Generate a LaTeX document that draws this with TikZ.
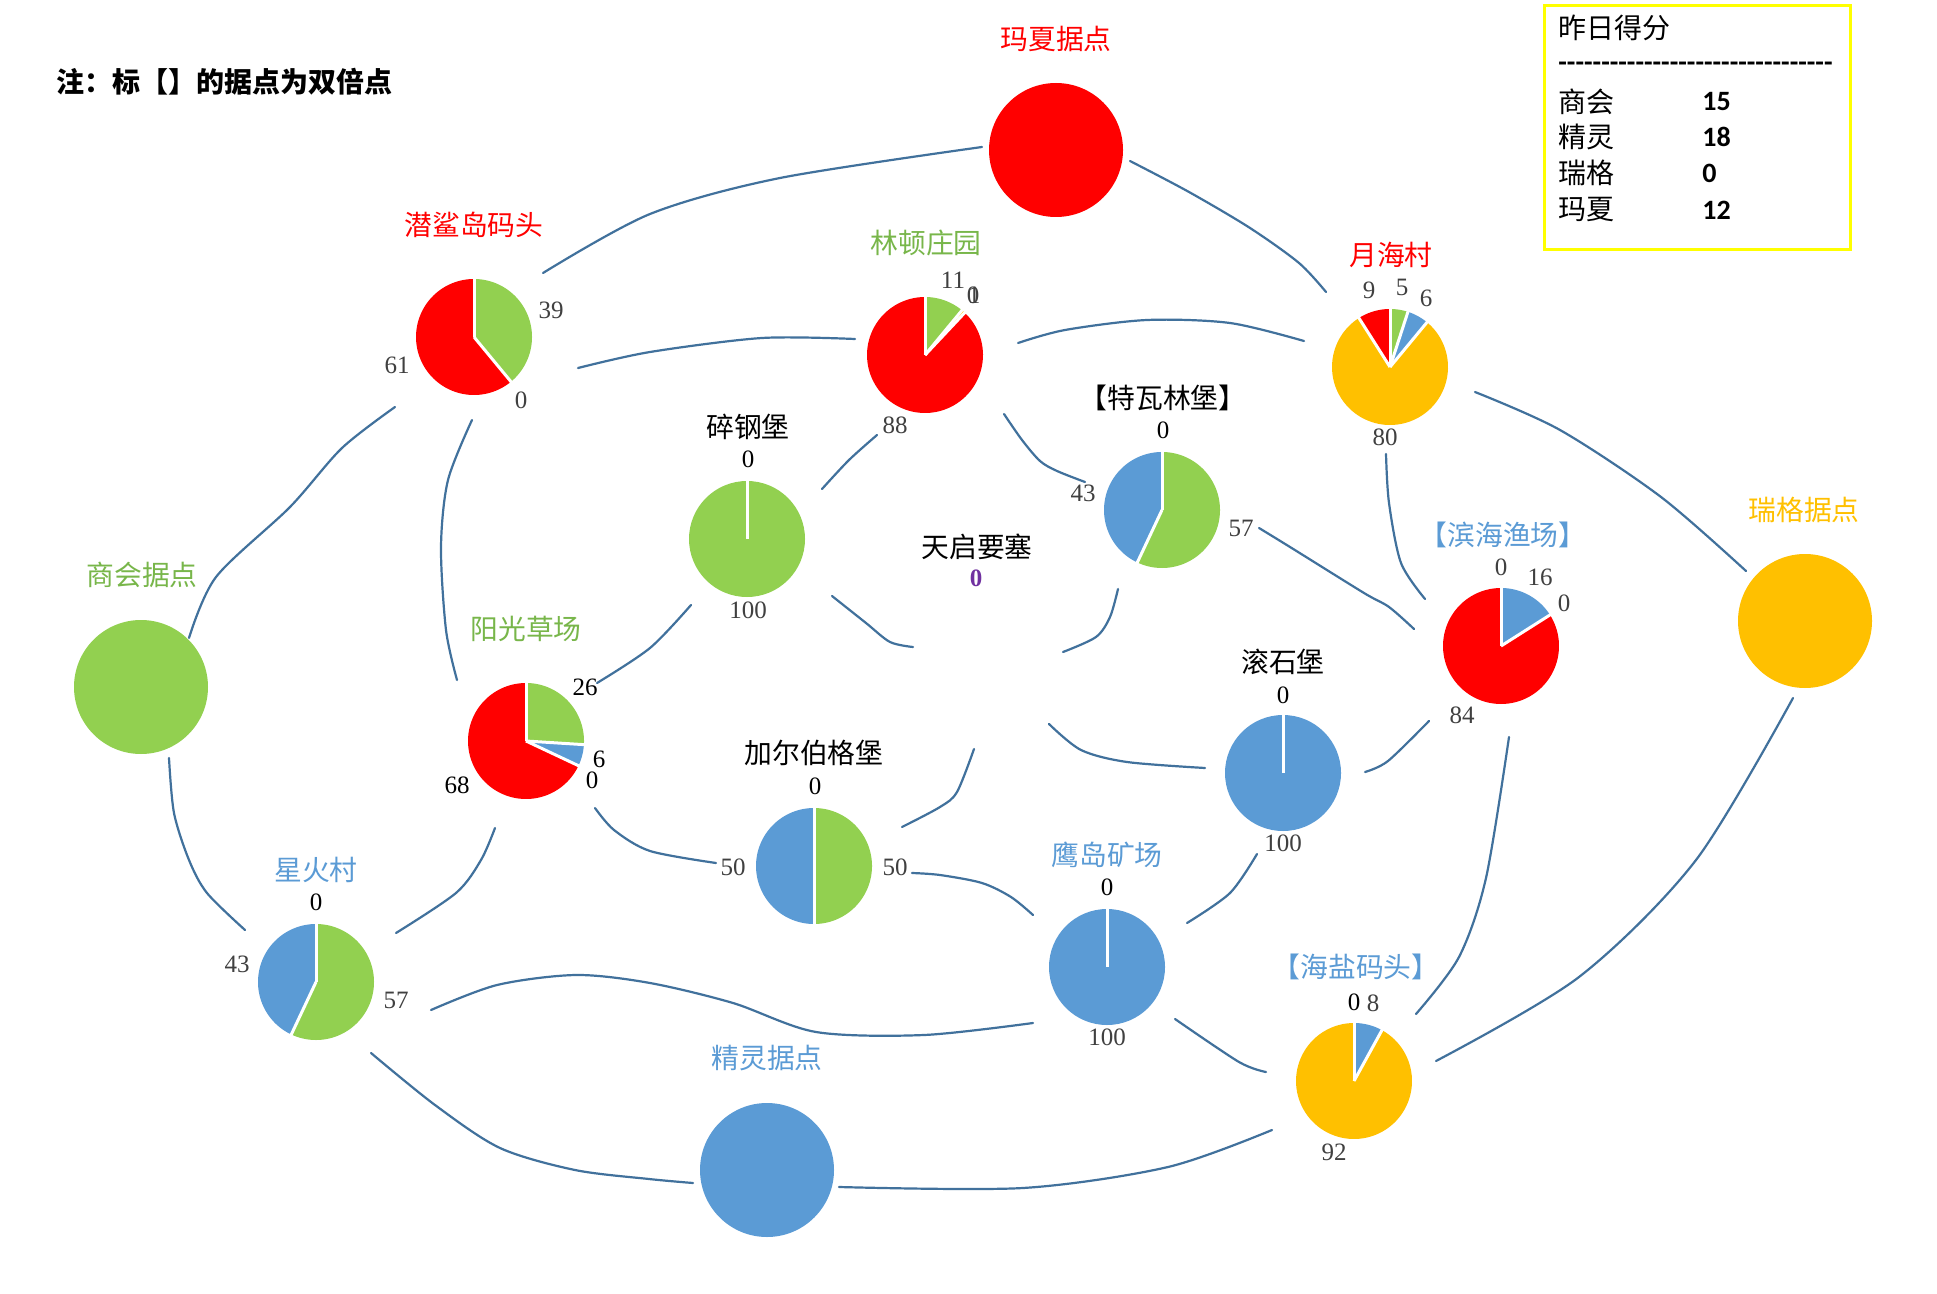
\documentclass[tikz,border=0pt]{standalone}
\usepackage{fontspec}
\setmainfont{Liberation Serif}
\newfontfamily\cjk{Noto Sans CJK SC}
\newfontfamily\calf{Carlito}
\definecolor{cgreen}{HTML}{92D050}
\definecolor{cblue}{HTML}{5B9BD5}
\definecolor{corange}{HTML}{FFC000}
\definecolor{cred}{HTML}{FF0000}
\definecolor{tgreen}{HTML}{78B64A}
\definecolor{linec}{HTML}{41719C}
\definecolor{numc}{HTML}{404040}
\definecolor{cpurple}{HTML}{7030A0}
\definecolor{boxc}{HTML}{FFFF00}
\newcommand\pieslice[5]{\fill[#5] (#1,#2) -- plot[domain=#3:#4, samples=90] ({#1+58*cos(\x)},{#2-58*sin(\x)}) -- cycle;}
\newcommand\piesep[3]{\draw[white, line width=1.5pt] (#1,#2) -- ({#1+60*cos(#3)},{#2-60*sin(#3)});}
\tikzset{
  conn/.style={draw=linec, line width=1.1pt, line cap=round},
  lab/.style={font=\cjk\fontsize{13.9}{16}\selectfont, inner sep=0pt},
  num/.style={font=\fontsize{12.5}{14}\selectfont, text=numc, inner sep=0pt},
  numk/.style={font=\fontsize{12.5}{14}\selectfont, text=black, inner sep=0pt},
  base/.style={circle, minimum size=67pt, inner sep=0pt},
  pienode/.style={circle, minimum size=58pt, inner sep=0pt},
  boxtxt/.style={font=\cjk\fontsize{14}{16}\selectfont, anchor=west, inner sep=0pt},
  boxnum/.style={font=\calf\bfseries\fontsize{14}{16}\selectfont, anchor=west, inner sep=0pt},
}
\begin{document}
\begin{tikzpicture}[x=0.5pt,y=-0.5pt]
\useasboundingbox (0,0) rectangle (1937,1294);
\fill[white] (0,0) rectangle (1937,1294);

% ---------- nodes (bases and pies) ----------
\node[base, fill=cred] (mx) at (1056,150) {};
\node[base, fill=cgreen] (sh) at (141,687) {};
\node[base, fill=corange] (rg) at (1805,621) {};
\node[base, fill=cblue] (jl) at (767,1170) {};

\node[pienode] (qs) at (474,337) {};
\node[pienode] (ld) at (925,355) {};
\node[pienode] (yh) at (1390,367) {};
\node[pienode] (sg) at (747,539) {};
\node[pienode] (tw) at (1162,510) {};
\node[pienode] (tq) at (977,640) {};
\node[pienode] (yg) at (526,741) {};
\node[pienode] (ge) at (814,866) {};
\node[pienode] (gs) at (1283,773) {};
\node[pienode] (bh) at (1501,646) {};
\node[pienode] (xh) at (316,982) {};
\node[pienode] (yd) at (1107,967) {};
\node[pienode] (hy) at (1354,1081) {};

% ---------- connector end points ----------
\coordinate (qs-mx) at (543,273);   \coordinate (mx-qs) at (982,147);
\coordinate (mx-yh) at (1130,161);  \coordinate (yh-mx) at (1326,292);
\coordinate (qs-ld) at (578,368);   \coordinate (ld-qs) at (855,339);
\coordinate (ld-yh) at (1018,343);  \coordinate (yh-ld) at (1304,341);
\coordinate (qs-sh) at (395,407);   \coordinate (sh-qs) at (189,638);
\coordinate (qs-yg) at (472,420);   \coordinate (yg-qs) at (457,680);
\coordinate (sh-xh) at (169,758);   \coordinate (xh-sh) at (245,930);
\coordinate (yg-sg) at (597,683);   \coordinate (sg-yg) at (691,605);
\coordinate (ld-sg) at (877,435);   \coordinate (sg-ld) at (822,489);
\coordinate (ld-tw) at (1004,414);  \coordinate (tw-ld) at (1085,482);
\coordinate (sg-tq) at (832,596);   \coordinate (tq-sg) at (913,647);
\coordinate (tw-tq) at (1118,589);  \coordinate (tq-tw) at (1063,652);
\coordinate (tq-gs) at (1049,724);  \coordinate (gs-tq) at (1205,768);
\coordinate (ge-tq) at (902,827);   \coordinate (tq-ge) at (974,749);
\coordinate (yg-ge) at (595,808);   \coordinate (ge-yg) at (716,863);
\coordinate (yg-xh) at (495,828);   \coordinate (xh-yg) at (396,933);
\coordinate (ge-yd) at (912,873);   \coordinate (yd-ge) at (1033,915);
\coordinate (xh-yd) at (431,1010);  \coordinate (yd-xh) at (1033,1023);
\coordinate (xh-jl) at (371,1053);  \coordinate (jl-xh) at (693,1183);
\coordinate (jl-hy) at (839,1187);  \coordinate (hy-jl) at (1272,1130);
\coordinate (yd-hy) at (1175,1019); \coordinate (hy-yd) at (1266,1072);
\coordinate (yd-gs) at (1187,923);  \coordinate (gs-yd) at (1257,854);
\coordinate (gs-bh) at (1365,772);  \coordinate (bh-gs) at (1429,721);
\coordinate (tw-bh) at (1259,528);  \coordinate (bh-tw) at (1414,629);
\coordinate (yh-bh) at (1386,454);  \coordinate (bh-yh) at (1425,599);
\coordinate (yh-rg) at (1475,392);  \coordinate (rg-yh) at (1746,571);
\coordinate (bh-hy) at (1509,737);  \coordinate (hy-bh) at (1416,1014);
\coordinate (rg-hy) at (1793,698);  \coordinate (hy-rg) at (1436,1061);

% ---------- connectors ----------
\draw[conn] plot[smooth] coordinates {(qs-mx) (650,214) (780,178) (mx-qs)};
\draw[conn] plot[smooth] coordinates {(mx-yh) (1189,192) (1250,228) (1299,263) (yh-mx)};
\draw[conn] plot[smooth] coordinates {(qs-ld) (650,352) (762,338) (ld-qs)};
\draw[conn] plot[smooth] coordinates {(ld-yh) (1065,330) (1147,320) (1230,323) (yh-ld)};
\draw[conn] plot[smooth] coordinates {(qs-sh) (342,448) (290,507) (216,577) (sh-qs)};
\draw[conn] plot[smooth] coordinates {(qs-yg) (448,480) (441,547) (446,630) (yg-qs)};
\draw[conn] plot[smooth] coordinates {(sh-xh) (174,813) (189,860) (207,893) (xh-sh)};
\draw[conn] plot[smooth] coordinates {(yg-sg) (650,648) (sg-yg)};
\draw[conn] plot[smooth] coordinates {(ld-sg) (849,460) (sg-ld)};
\draw[conn] plot[smooth] coordinates {(ld-tw) (1022,440) (1040,461) (1057,471) (tw-ld)};
\draw[conn] plot[smooth] coordinates {(sg-tq) (866,623) (890,642) (tq-sg)};
\draw[conn] plot[smooth] coordinates {(tw-tq) (1110,617) (1096,637) (tq-tw)};
\draw[conn] plot[smooth] coordinates {(tq-gs) (1081,750) (1127,762) (gs-tq)};
\draw[conn] plot[smooth] coordinates {(ge-tq) (940,807) (957,792) (tq-ge)};
\draw[conn] plot[smooth] coordinates {(yg-ge) (614,830) (650,851) (ge-yg)};
\draw[conn] plot[smooth] coordinates {(yg-xh) (481,860) (456,893) (xh-yg)};
\draw[conn] plot[smooth] coordinates {(ge-yd) (940,875) (982,883) (1011,897) (yd-ge)};
\draw[conn] plot[smooth] coordinates {(xh-yd) (497,985) (576,975) (650,983) (733,1003) (816,1032) (924,1035) (yd-xh)};
\draw[conn] plot[smooth] coordinates {(xh-jl) (435,1105) (500,1148) (575,1170) (649,1179) (jl-xh)};
\draw[conn] plot[smooth] coordinates {(jl-hy) (1023,1188) (1168,1167) (hy-jl)};
\draw[conn] plot[smooth] coordinates {(yd-hy) (1239,1062) (hy-yd)};
\draw[conn] plot[smooth] coordinates {(yd-gs) (1230,893) (gs-yd)};
\draw[conn] plot[smooth] coordinates {(gs-bh) (1388,761) (bh-gs)};
\draw[conn] plot[smooth] coordinates {(tw-bh) (1290,547) (1364,593) (1389,607) (bh-tw)};
\draw[conn] plot[smooth] coordinates {(yh-bh) (1389,503) (1401,563) (bh-yh)};
\draw[conn] plot[smooth] coordinates {(yh-rg) (1560,430) (1661,497) (rg-yh)};
\draw[conn] plot[smooth] coordinates {(bh-hy) (1486,878) (1459,957) (hy-bh)};
\draw[conn] plot[smooth] coordinates {(rg-hy) (1696,860) (1579,977) (hy-rg)};

% ---------- pies ----------
% qianshadao
\pieslice{474}{337}{90}{-50.4}{cgreen}
\pieslice{474}{337}{-50.4}{-270}{cred}
\piesep{474}{337}{90}\piesep{474}{337}{-50.4}
% lindun
\pieslice{925}{355}{90}{50.4}{cgreen}
\pieslice{925}{355}{50.4}{46.8}{corange}
\pieslice{925}{355}{46.8}{-270}{cred}
\piesep{925}{355}{90}\piesep{925}{355}{50.4}\piesep{925}{355}{46.8}
% yuehai
\pieslice{1390}{367}{90}{72}{cgreen}
\pieslice{1390}{367}{72}{50.4}{cblue}
\pieslice{1390}{367}{50.4}{-237.6}{corange}
\pieslice{1390}{367}{-237.6}{-270}{cred}
\piesep{1390}{367}{90}\piesep{1390}{367}{72}\piesep{1390}{367}{50.4}\piesep{1390}{367}{-237.6}
% suigang
\fill[cgreen] (747,539) circle[radius=29pt];
\piesep{747}{539}{90}
% tewalin
\pieslice{1162}{510}{90}{-115.2}{cgreen}
\pieslice{1162}{510}{-115.2}{-270}{cblue}
\piesep{1162}{510}{90}\piesep{1162}{510}{-115.2}
% yangguang
\pieslice{526}{741}{90}{-3.6}{cgreen}
\pieslice{526}{741}{-3.6}{-25.2}{cblue}
\pieslice{526}{741}{-25.2}{-270}{cred}
\piesep{526}{741}{90}\piesep{526}{741}{-3.6}\piesep{526}{741}{-25.2}
% jiaerbo
\pieslice{814}{866}{90}{-90}{cgreen}
\pieslice{814}{866}{-90}{-270}{cblue}
\piesep{814}{866}{90}\piesep{814}{866}{-90}
% gunshi
\fill[cblue] (1283,773) circle[radius=29pt];
\piesep{1283}{773}{90}
% binhai
\pieslice{1501}{646}{90}{32.4}{cblue}
\pieslice{1501}{646}{32.4}{-270}{cred}
\piesep{1501}{646}{90}\piesep{1501}{646}{32.4}
% xinghuo
\pieslice{316}{982}{90}{-115.2}{cgreen}
\pieslice{316}{982}{-115.2}{-270}{cblue}
\piesep{316}{982}{90}\piesep{316}{982}{-115.2}
% yingdao
\fill[cblue] (1107,967) circle[radius=29pt];
\piesep{1107}{967}{90}
% haiyan
\pieslice{1354}{1081}{90}{61.2}{cblue}
\pieslice{1354}{1081}{61.2}{-270}{corange}
\piesep{1354}{1081}{90}\piesep{1354}{1081}{61.2}

% ---------- titles ----------
\node[anchor=west, inner sep=0pt, font=\cjk\bfseries\fontsize{14}{17}\selectfont] (note) at (56,82) {注：标【】的据点为双倍点};

\node[lab, text=cred] (t-mx) at (1056,39) {玛夏据点};
\node[lab, text=cred] (t-qs) at (474,225) {潜鲨岛码头};
\node[lab, text=tgreen] (t-ld) at (926,243) {林顿庄园};
\node[lab, text=cred] (t-yh) at (1391,255) {月海村};
\node[lab, text=black] (t-sg) at (748,427) {碎钢堡};
\node[lab, text=black] (t-tw) at (1163,398) {【特瓦林堡】};
\node[lab, text=black] (t-tq) at (977,547) {天启要塞};
\node[lab, text=tgreen] (t-sh) at (142,575) {商会据点};
\node[lab, text=tgreen] (t-yg) at (526,629) {阳光草场};
\node[lab, text=cblue] (t-bh) at (1503,535) {【滨海渔场】};
\node[lab, text=corange] (t-rg) at (1804,510) {瑞格据点};
\node[lab, text=black] (t-gs) at (1283,662) {滚石堡};
\node[lab, text=black] (t-ge) at (814,753) {加尔伯格堡};
\node[lab, text=cblue] (t-xh) at (316,870) {星火村};
\node[lab, text=cblue] (t-yd) at (1107,855) {鹰岛矿场};
\node[lab, text=cblue] (t-hy) at (1356,967) {【海盐码头】};
\node[lab, text=cblue] (t-jl) at (767,1058) {精灵据点};

% ---------- numbers ----------
\node[num] (n-qs1) at (551,310) {39};
\node[num] (n-qs2) at (397,365) {61};
\node[num] (n-qs3) at (521,400) {0};
\node[num] (n-ld1) at (953,280) {11};
\node[num] (n-ld2) at (973,295) {0};
\node[num] (n-ld3) at (974,295) {1};
\node[num] (n-ld4) at (895,425) {88};
\node[num] (n-yh1) at (1369,290) {9};
\node[num] (n-yh2) at (1402,287) {5};
\node[num] (n-yh3) at (1426,298) {6};
\node[num] (n-yh4) at (1385,437) {80};
\node[numk] (n-sg1) at (748,459) {0};
\node[num] (n-sg2) at (748,610) {100};
\node[numk] (n-tw1) at (1163,430) {0};
\node[num] (n-tw2) at (1083,493) {43};
\node[num] (n-tw3) at (1241,528) {57};
\node[font=\bfseries\fontsize{12.5}{14}\selectfont, text=cpurple, inner sep=0pt] (n-tq) at (976,578) {0};
\node[numk] (n-yg1) at (585,687) {26};
\node[numk] (n-yg2) at (599,759) {6};
\node[numk] (n-yg3) at (592,780) {0};
\node[numk] (n-yg4) at (457,785) {68};
\node[numk] (n-ge1) at (815,786) {0};
\node[num] (n-ge2) at (733,867) {50};
\node[num] (n-ge3) at (895,867) {50};
\node[numk] (n-gs1) at (1283,695) {0};
\node[num] (n-gs2) at (1283,843) {100};
\node[num] (n-bh1) at (1501,567) {0};
\node[num] (n-bh2) at (1540,577) {16};
\node[num] (n-bh3) at (1564,603) {0};
\node[num] (n-bh4) at (1462,715) {84};
\node[numk] (n-xh1) at (316,902) {0};
\node[num] (n-xh2) at (237,964) {43};
\node[num] (n-xh3) at (396,1000) {57};
\node[numk] (n-yd1) at (1107,887) {0};
\node[num] (n-yd2) at (1107,1037) {100};
\node[numk] (n-hy1) at (1354,1002) {0};
\node[num] (n-hy2) at (1373,1003) {8};
\node[num] (n-hy3) at (1334,1152) {92};

% ---------- score box ----------
\node[draw=boxc, line width=1.5pt, inner sep=0pt, minimum width=153pt, minimum height=122pt, anchor=north west] (box) at (1543,4) {};
\node[boxtxt] (b-title) at (1558,28) {昨日得分};
\node[font=\calf\bfseries\fontsize{14}{16}\selectfont, anchor=west, inner sep=0pt] (b-dash) at (1558,67) {--------------------------------};
\node[boxtxt] (b-r1) at (1558,102) {商会};
\node[boxnum] (b-v1) at (1702,102) {15};
\node[boxtxt] (b-r2) at (1558,137) {精灵};
\node[boxnum] (b-v2) at (1702,137) {18};
\node[boxtxt] (b-r3) at (1558,173) {瑞格};
\node[boxnum] (b-v3) at (1702,173) {0};
\node[boxtxt] (b-r4) at (1558,210) {玛夏};
\node[boxnum] (b-v4) at (1702,210) {12};
\end{tikzpicture}
\end{document}
